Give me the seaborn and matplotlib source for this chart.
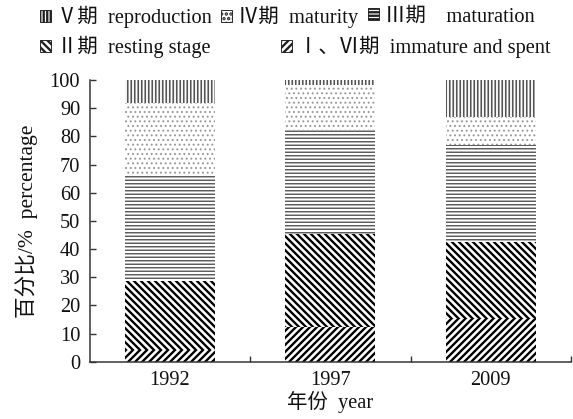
import matplotlib
matplotlib.use("Agg")
import matplotlib.pyplot as plt
import seaborn as sns
import numpy as np
import pandas as pd
from matplotlib.patches import Patch

# ---- data (percent of each stage per year) ----
years = ["1992", "1997", "2009"]
stage_I_VI = [4.2, 12.4, 15.4]     # I, VI immature and spent
stage_II = [24.4, 32.9, 27.2]      # II resting stage
stage_III = [37.4, 36.9, 34.3]     # III maturation
stage_IV = [25.7, 16.0, 10.1]      # IV maturity
stage_V = [8.3, 1.8, 13.0]         # V reproduction

stage_labels = ["Ⅴ期  reproduction", "Ⅳ期  maturity", "Ⅲ期    maturation",
                "Ⅱ期  resting stage", "Ⅰ、Ⅵ期  immature and spent"]

sns.set_theme(style="ticks")
plt.rcParams['font.family'] = ['Liberation Serif', 'Noto Sans CJK SC']
plt.rcParams['hatch.linewidth'] = 2.0

DPI = 84
W, H = 573, 419
FS = 17.5
fig = plt.figure(figsize=(W / DPI, H / DPI), dpi=DPI)
ax = fig.add_axes([89.5 / W, 1 - 361.7 / H, (571 - 89.5) / W, (361.7 - 80) / H])

# cumulative tops, drawn from tallest to shortest so each layer covers the rest
layers = [stage_I_VI, stage_II, stage_III, stage_IV, stage_V]
cum = np.cumsum(np.array(layers), axis=0)
styles = [
    dict(hatch="////", edgecolor="black", lw=2.0),              # I
    dict(hatch="\\\\\\\\", edgecolor="black", lw=2.0),          # II
    dict(hatch="----", edgecolor="#555555", lw=1.2),            # III
    dict(hatch="...", edgecolor="#9a9a9a", lw=1.0),             # IV
    dict(hatch="||||", edgecolor="#555555", lw=1.4),            # V
]

for i in range(4, -1, -1):
    st = styles[i]
    df = pd.DataFrame({"year": years, "value": cum[i]})
    n_before = len(ax.patches)
    with plt.rc_context({'hatch.linewidth': st["lw"]}):
        sns.barplot(data=df, x="year", y="value", color="white", saturation=1,
                    errorbar=None, width=0.56, hatch=st["hatch"],
                    edgecolor=st["edgecolor"], linewidth=0, ax=ax)
    for p in ax.patches[n_before:]:
        p.set_facecolor("white")
        if hasattr(p, "set_hatch_linewidth"):
            p.set_hatch_linewidth(st["lw"])

ax.set_xlim(-0.5, 2.5)
ax.set_ylim(0, 100)
ax.set_yticks(np.arange(0, 101, 10))
ax.set_xticks([0.5, 1.5, 2.5])
ax.set_xticklabels([])
ax.set_xticks([0, 1, 2], minor=True)
ax.set_xticklabels(years, minor=True)
ax.tick_params(axis="x", which="major", direction="in", length=5, width=1.2, color="#333333")
ax.tick_params(axis="x", which="minor", length=0, pad=8, labelsize=FS, labelcolor="#111111")
ax.tick_params(axis="y", direction="in", length=5, width=1.2, color="#333333",
               pad=8, labelsize=FS, labelcolor="#111111")

for s in ["top", "right"]:
    ax.spines[s].set_visible(False)
for s in ["left", "bottom"]:
    ax.spines[s].set_linewidth(1.3)
    ax.spines[s].set_color("#333333")

ax.set_xlabel("年份  year", fontsize=FS, color="#111111", labelpad=1)
ax.set_ylabel("百分比/%  percentage", fontsize=18.5, color="#111111", labelpad=10)

# legend entries
handles = []
for st in [styles[4], styles[3], styles[2], styles[1], styles[0]]:
    handles.append(Patch(facecolor="white", edgecolor="#222222", hatch=st["hatch"], linewidth=0.8))
pos = [(40, 17), (221, 17), (368, 17), (40, 47), (281, 47)]
for h, lab, (px, py) in zip(handles, stage_labels, pos):
    fig.legend(handles=[h], labels=[lab], loc="center left",
               bbox_to_anchor=(px / W, 1 - py / H), frameon=False,
               borderpad=0, borderaxespad=0, handlelength=0.55, handleheight=0.55,
               handletextpad=0.3, fontsize=FS, labelcolor="#111111")

fig.savefig("out.png", dpi=DPI, facecolor="white")
